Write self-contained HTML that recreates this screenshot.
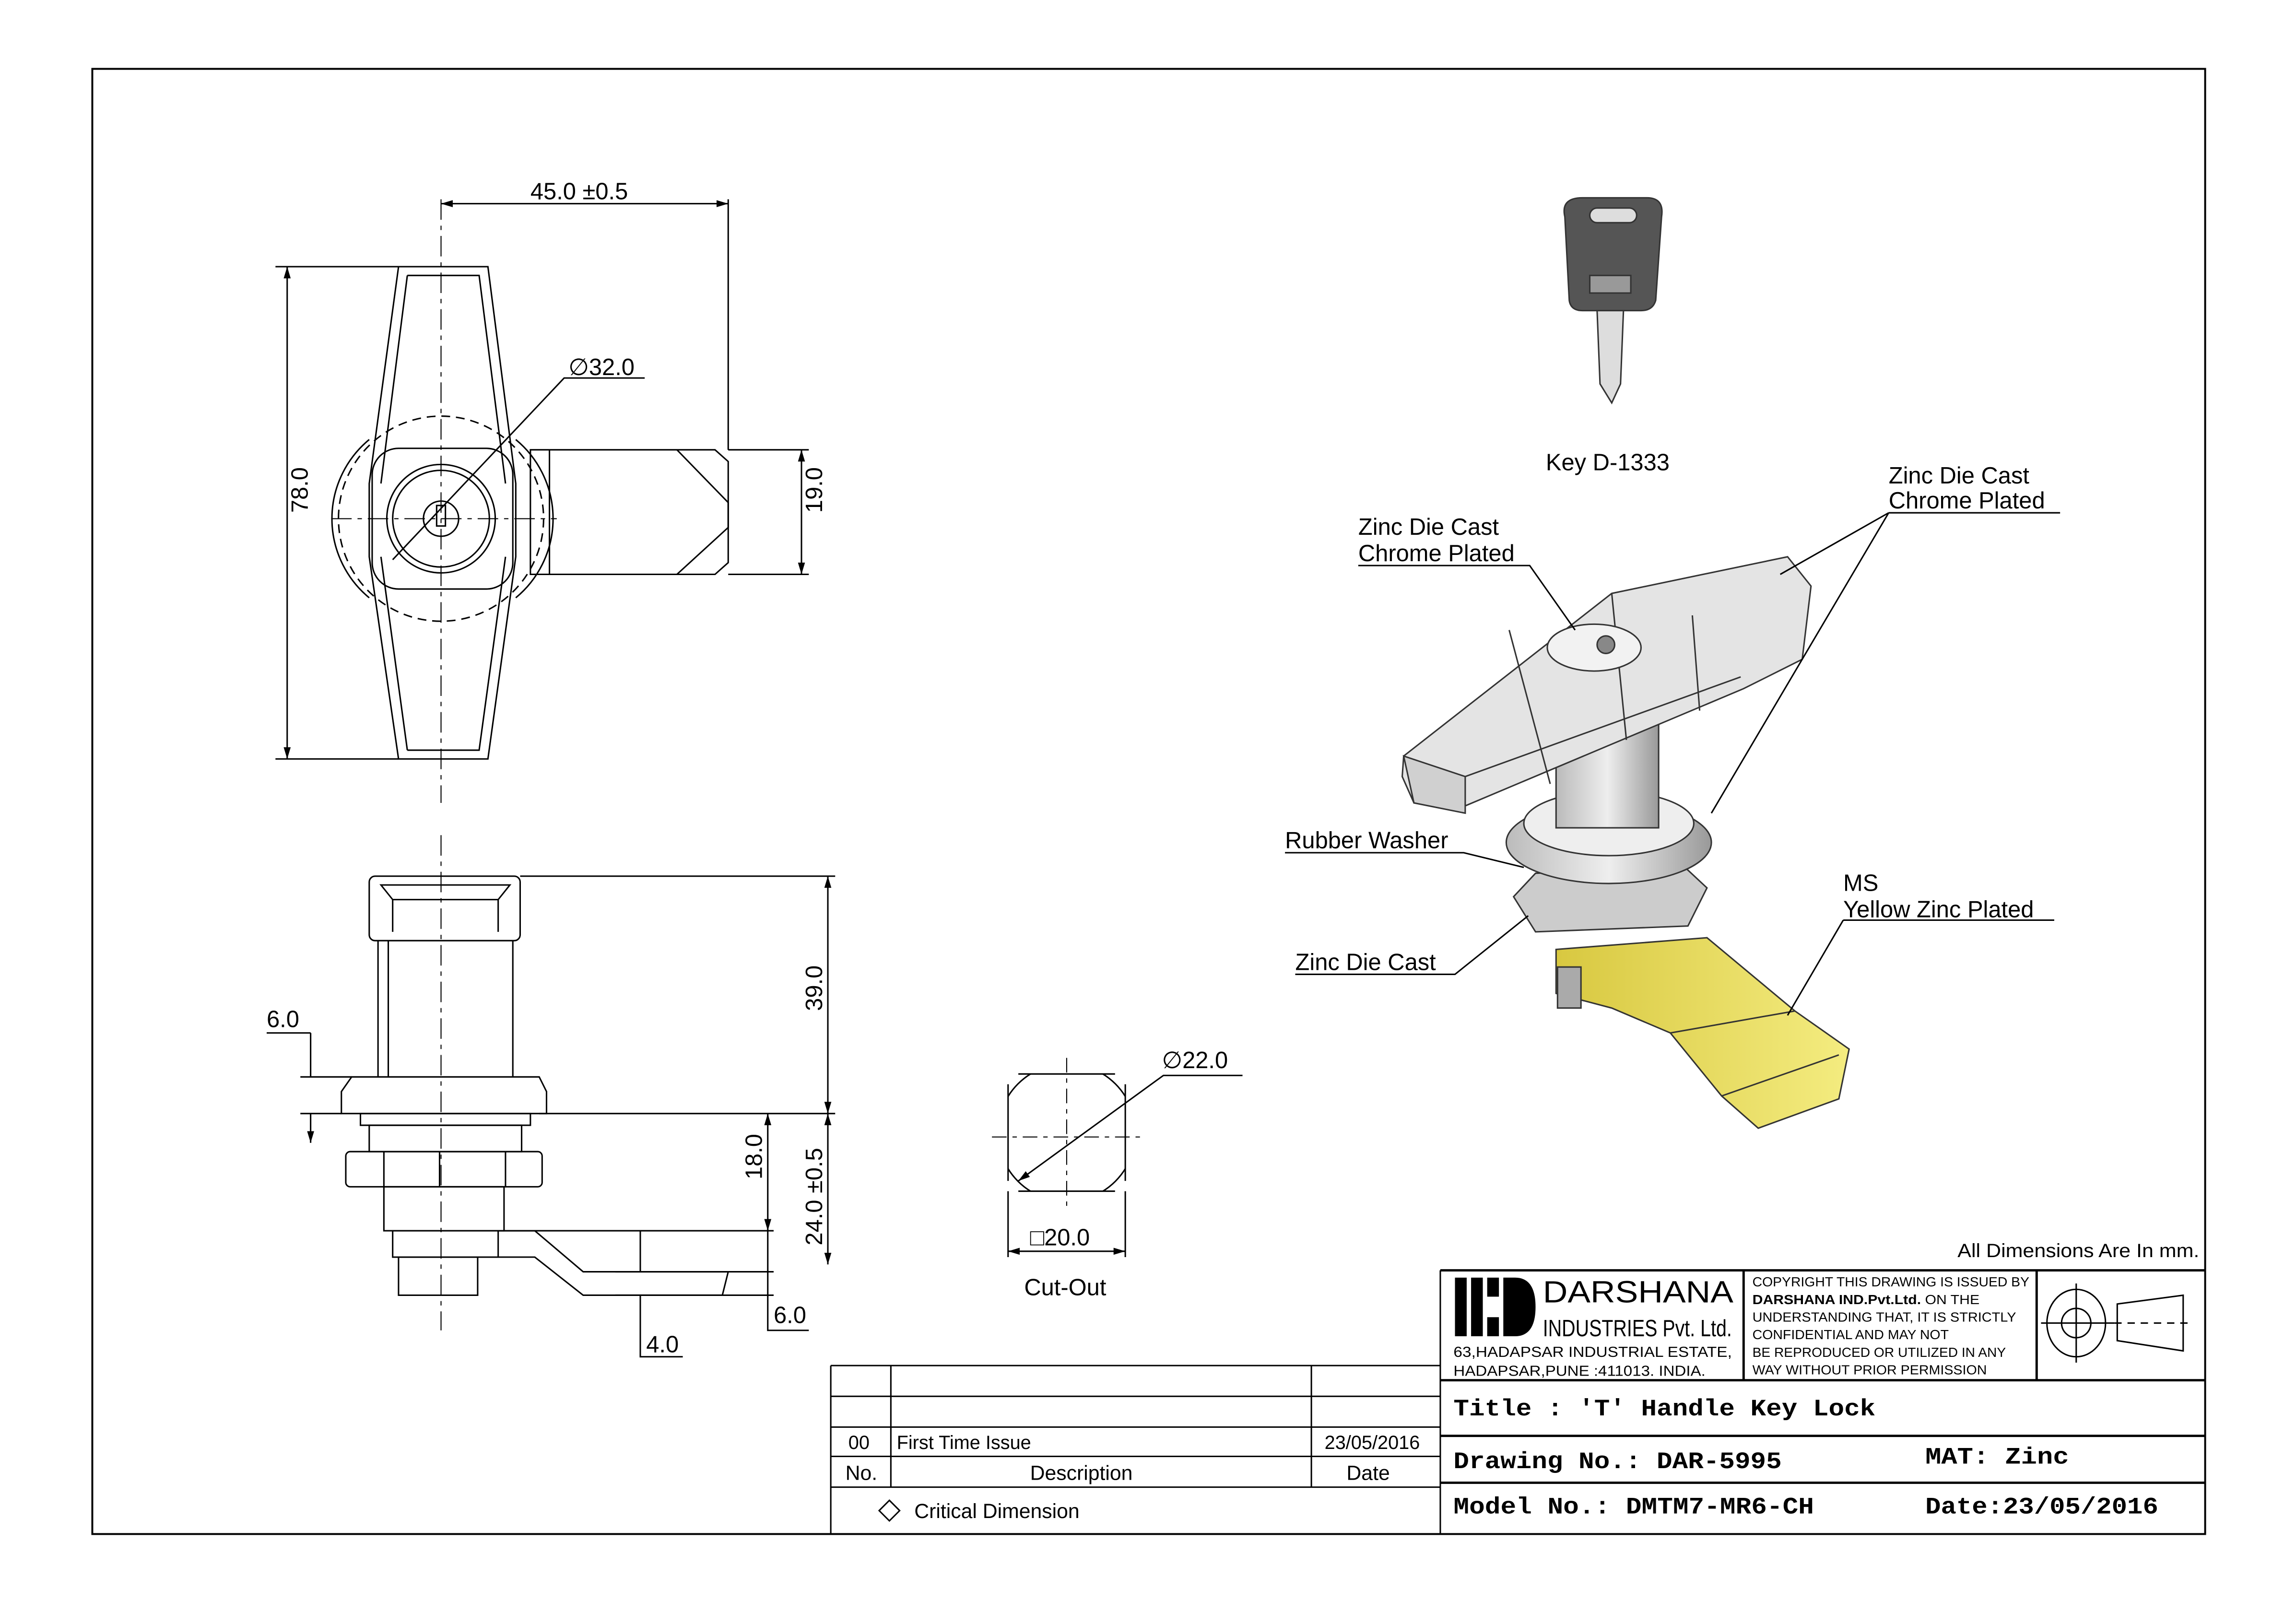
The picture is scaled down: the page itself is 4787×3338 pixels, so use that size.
<!DOCTYPE html>
<html><head><meta charset="utf-8"><style>
html,body{margin:0;padding:0;background:#fff}
svg{display:block}
text{font-family:"Liberation Sans",sans-serif;fill:#000}
.m{font-family:"Liberation Mono",monospace;font-weight:bold}
</style></head><body>
<svg width="4787" height="3338" viewBox="0 0 1567 1092.7" preserveAspectRatio="none" xmlns="http://www.w3.org/2000/svg">
<defs>
<marker id="a" viewBox="0 0 10 10" refX="10" refY="5" markerWidth="8" markerHeight="8" orient="auto-start-reverse"><path d="M0,2 L10,5 L0,8z" fill="#000"/></marker>
<clipPath id="sq"><rect x="688" y="733" width="80" height="80"/></clipPath>
<linearGradient id="g" x1="0" x2="1"><stop offset="0" stop-color="#bbb"/><stop offset=".5" stop-color="#eee"/><stop offset="1" stop-color="#999"/></linearGradient>
<linearGradient id="y" x1="0" x2="1"><stop offset="0" stop-color="#d8c840"/><stop offset="1" stop-color="#f4ec80"/></linearGradient>
</defs>
<rect x="0" y="0" width="1567" height="1093" fill="#fff"/>
<rect x="63" y="47" width="1442" height="1000" fill="none" stroke="#000" stroke-width="1.3"/>

<!-- TOP VIEW -->
<g fill="none" stroke="#000" stroke-width="1">
<path d="M272,182 L333,182 L352,330 L352,380 L333,518 L272,518 L252,380 L252,330 Z"/>
<path d="M278,188 L327,188 L345,330 M278,512 L327,512 L345,380 M260,330 L278,188 M260,380 L278,512"/>
<path d="M252,300 A70,70 0 0,0 252,408 M352,300 A70,70 0 0,1 352,408"/>
<circle cx="301" cy="354" r="70" stroke-dasharray="6,4"/>
<rect x="254" y="306" width="96" height="96" rx="18"/>
<circle cx="301" cy="354" r="37"/>
<circle cx="301" cy="354" r="33"/>
<circle cx="301" cy="354" r="12"/>
<rect x="298" y="345" width="6" height="14"/>
<path d="M362,307 L488,307 L497,315 L497,384 L488,392 L362,392 Z"/>
<path d="M375,307 L375,392 M462,307 L497,343 L497,360 L462,392"/>
<path d="M301,136 L301,548 M226,354 L380,354" stroke-dasharray="14,4,3,4" stroke-width=".7"/>
<path d="M301,139 L497,139" marker-start="url(#a)" marker-end="url(#a)"/>
<path d="M497,136 L497,307"/>
<path d="M196,182 L196,518" marker-start="url(#a)" marker-end="url(#a)"/>
<path d="M188,182 L272,182 M188,518 L272,518"/>
<path d="M547,307 L547,392" marker-start="url(#a)" marker-end="url(#a)"/>
<path d="M497,307 L552,307 M497,392 L552,392"/>
<path d="M268,382 L385,258 L440,258"/>
</g>
<text x="362" y="136" font-size="16">45.0 ±0.5</text>
<text x="388" y="256" font-size="16">∅32.0</text>
<text x="192" y="368" font-size="16" transform="rotate(-90 192 350)">78.0</text>
<text x="543" y="368" font-size="16" transform="rotate(-90 543 350)">19.0</text>

<!-- SIDE VIEW -->
<g fill="none" stroke="#000" stroke-width="1">
<rect x="252" y="598" width="103" height="44" rx="4"/>
<path d="M260,604 L348,604 L340,614 L268,614 Z M268,614 L268,636 M340,614 L340,636"/>
<path d="M258,642 L258,735 M350,642 L350,735 M265,642 L265,735"/>
<path d="M240,735 L368,735 L373,745 L373,760 L233,760 L233,745 Z"/>
<rect x="246" y="760" width="116" height="8"/>
<rect x="252" y="768" width="104" height="18"/>
<rect x="236" y="786" width="134" height="24" rx="3"/>
<path d="M262,786 L262,810 M345,786 L345,810 M300,786 L300,810"/>
<rect x="262" y="810" width="82" height="30"/>
<rect x="268" y="840" width="72" height="18"/>
<rect x="272" y="858" width="54" height="26"/>
<path d="M340,840 L365,840 L398,868 L497,868 L493,884 L398,884 L365,858 L340,858"/>
<path d="M301,570 L301,908" stroke-dasharray="14,4,3,4" stroke-width=".7"/>
<path d="M355,598 L570,598 M372,760 L570,760 M340,840 L528,840 M420,868 L528,868 M420,884 L528,884 M368,760 L528,760"/>
<path d="M565,598 L565,760" marker-start="url(#a)" marker-end="url(#a)"/>
<path d="M565,760 L565,863" marker-start="url(#a)" marker-end="url(#a)"/>
<path d="M524,760 L524,840" marker-start="url(#a)" marker-end="url(#a)"/>
<path d="M524,840 L524,908 L552,908 M524,884 L524,868"/>
<path d="M212,705 L212,735 M212,760 L212,780" marker-end="url(#a)"/>
<path d="M182,705 L212,705 M205,735 L240,735 M205,760 L233,760"/>
<path d="M437,840 L437,868 M437,884 L437,926 L466,926"/>
</g>
<text x="182" y="701" font-size="16">6.0</text>
<text x="561" y="690" font-size="16" transform="rotate(-90 561 690)">39.0</text>
<text x="520" y="805" font-size="16" transform="rotate(-90 520 805)">18.0</text>
<text x="561" y="850" font-size="16" transform="rotate(-90 561 850)">24.0 ±0.5</text>
<text x="528" y="903" font-size="16">6.0</text>
<text x="441" y="923" font-size="16">4.0</text>

<!-- CUT-OUT -->
<g fill="none" stroke="#000" stroke-width="1">
<circle cx="728" cy="773" r="47" clip-path="url(#sq)"/>
<path d="M688,740 L688,806 M768,740 L768,806 M695,733 L761,733 M695,813 L761,813"/>
<path d="M728,722 L728,826 M677,776 L780,776" stroke-dasharray="10,4,3,4" stroke-width=".7"/>
<path d="M695,806 L794,734 L848,734" marker-start="url(#a)"/>
<path d="M688,813 L688,858 M768,813 L768,858"/>
<path d="M688,854 L768,854" marker-start="url(#a)" marker-end="url(#a)"/>
</g>
<text x="793" y="729" font-size="16">∅22.0</text>
<text x="703" y="850" font-size="16">□20.0</text>
<text x="699" y="884" font-size="16">Cut-Out</text>

<!-- KEY -->
<g stroke="#333" stroke-width="1">
<path d="M1068,148 Q1065,135 1080,135 L1124,135 Q1136,135 1134,148 L1130,205 Q1128,212 1120,212 L1080,212 Q1072,212 1071,205 Z" fill="#555"/>
<rect x="1085" y="142" width="32" height="10" rx="5" fill="#ddd"/>
<rect x="1085" y="188" width="28" height="12" fill="#999"/>
<path d="M1090,212 L1108,212 L1106,262 L1100,275 L1092,262 Z" fill="#ddd"/>
</g>
<text x="1055" y="321" font-size="16">Key D-1333</text>

<!-- ISO VIEW -->
<g stroke="#333" stroke-width="1">
<path d="M1062,648 L1165,640 L1225,690 L1262,716 L1255,750 L1200,770 L1175,748 L1140,705 L1100,688 L1062,678 Z" fill="url(#y)"/>
<path d="M1175,748 L1255,720 M1140,705 L1225,690" fill="none"/>
<rect x="1063" y="660" width="16" height="28" fill="#aaa"/>
<path d="M1033,612 L1048,596 L1150,592 L1165,606 L1152,632 L1048,636 Z" fill="#ccc"/>
<ellipse cx="1098" cy="575" rx="70" ry="28" fill="url(#g)"/>
<ellipse cx="1098" cy="562" rx="58" ry="22" fill="#eee"/>
<rect x="1062" y="470" width="70" height="95" fill="url(#g)"/>
<path d="M958,516 L1100,405 L1220,380 L1236,400 L1230,450 L1190,470 L1000,550 L965,548 L957,530 Z" fill="#e4e4e4"/>
<path d="M958,516 L1000,530 L1000,555 L965,548 Z" fill="#d0d0d0"/>
<path d="M1000,530 L1188,462 M1100,405 L1110,505 M1030,430 L1058,535 M1155,420 L1160,485" fill="none"/>
<ellipse cx="1088" cy="442" rx="32" ry="16" fill="#f2f2f2"/>
<circle cx="1096" cy="440" r="6" fill="#888"/>
</g>
<g fill="none" stroke="#000" stroke-width="1">
<path d="M927,386 L1044,386 L1075,430"/>
<path d="M1289,350 L1406,350 M1289,350 L1215,392 M1289,350 L1168,555"/>
<path d="M877,582 L999,582 L1040,592"/>
<path d="M884,665 L993,665 L1043,625"/>
<path d="M1258,628 L1402,628 M1258,628 L1220,693"/>
</g>
<text x="927" y="365" font-size="16">Zinc Die Cast</text>
<text x="927" y="383" font-size="16">Chrome Plated</text>
<text x="1289" y="330" font-size="16">Zinc Die Cast</text>
<text x="1289" y="347" font-size="16">Chrome Plated</text>
<text x="877" y="579" font-size="16">Rubber Washer</text>
<text x="884" y="662" font-size="16">Zinc Die Cast</text>
<text x="1258" y="608" font-size="16">MS</text>
<text x="1258" y="626" font-size="16">Yellow Zinc Plated</text>

<!-- REVISION TABLE -->
<g fill="none" stroke="#000" stroke-width="1">
<path d="M567,932 L983,932 M567,953 L983,953 M567,974 L983,974 M567,994 L983,994 M567,1015 L983,1015 M567,932 L567,1047 M608,932 L608,1015 M895,932 L895,1015 M983,867 L983,1047"/>
<path d="M983,867 L1505,867 M983,942 L1505,942 M983,980 L1505,980 M983,1012 L1505,1012 M1190,867 L1190,942 M1390,867 L1390,942" stroke-width="1.6"/>
<path d="M607,1024 L614,1031 L607,1038 L600,1031 Z"/>
<ellipse cx="1417" cy="903" rx="20" ry="23"/><circle cx="1417" cy="903" r="10"/>
<path d="M1443,903 L1493,903" stroke-dasharray="5,4"/><path d="M1393,903 L1443,903 M1417,876 L1417,930"/>
<path d="M1445,890 L1490,884 L1490,922 L1445,915 Z"/>
</g>
<text x="579" y="989" font-size="13">00</text>
<text x="612" y="989" font-size="13">First Time Issue</text>
<text x="904" y="989" font-size="13">23/05/2016</text>
<text x="577" y="1010" font-size="14">No.</text>
<text x="703" y="1010" font-size="14">Description</text>
<text x="919" y="1010" font-size="14">Date</text>
<text x="624" y="1036" font-size="14">Critical Dimension</text>

<!-- TITLE BLOCK -->
<text x="1336" y="858" font-size="13" textLength="165" lengthAdjust="spacingAndGlyphs">All Dimensions Are In mm.</text>
<g fill="#000">
<rect x="993" y="872" width="8" height="40"/><rect x="1004" y="872" width="8" height="40"/>
<rect x="1015" y="872" width="8" height="13"/><rect x="1015" y="899" width="8" height="13"/>
<path d="M1026,872 L1034,872 Q1048,872 1048,892 Q1048,912 1034,912 L1026,912 Z"/>
</g>
<text x="1053" y="889" font-size="21" textLength="130" lengthAdjust="spacingAndGlyphs">DARSHANA</text>
<text x="1053" y="912" font-size="16" textLength="129" lengthAdjust="spacingAndGlyphs">INDUSTRIES Pvt. Ltd.</text>
<text x="992" y="926" font-size="10" textLength="190" lengthAdjust="spacingAndGlyphs">63,HADAPSAR INDUSTRIAL ESTATE,</text>
<text x="992" y="939" font-size="10" textLength="172" lengthAdjust="spacingAndGlyphs">HADAPSAR,PUNE :411013. INDIA.</text>
<g font-size="9">
<text x="1196" y="878" textLength="189" lengthAdjust="spacingAndGlyphs">COPYRIGHT THIS DRAWING IS ISSUED BY</text>
<text x="1196" y="890" textLength="155" lengthAdjust="spacingAndGlyphs"><tspan font-weight="bold">DARSHANA IND.Pvt.Ltd.</tspan> ON THE</text>
<text x="1196" y="902" textLength="180" lengthAdjust="spacingAndGlyphs">UNDERSTANDING THAT, IT IS STRICTLY</text>
<text x="1196" y="914" textLength="134" lengthAdjust="spacingAndGlyphs">CONFIDENTIAL AND MAY NOT</text>
<text x="1196" y="926" textLength="173" lengthAdjust="spacingAndGlyphs">BE REPRODUCED OR UTILIZED IN ANY</text>
<text x="1196" y="938" textLength="160" lengthAdjust="spacingAndGlyphs">WAY WITHOUT PRIOR PERMISSION</text>
</g>
<text class="m" x="992" y="966" font-size="16" textLength="288" lengthAdjust="spacingAndGlyphs">Title : 'T' Handle Key Lock</text>
<text class="m" x="992" y="1002" font-size="16" textLength="224" lengthAdjust="spacingAndGlyphs">Drawing No.: DAR-5995</text>
<text class="m" x="1314" y="999" font-size="16" textLength="98" lengthAdjust="spacingAndGlyphs">MAT: Zinc</text>
<text class="m" x="992" y="1033" font-size="16" textLength="246" lengthAdjust="spacingAndGlyphs">Model No.: DMTM7-MR6-CH</text>
<text class="m" x="1314" y="1033" font-size="16" textLength="159" lengthAdjust="spacingAndGlyphs">Date:23/05/2016</text>
</svg>
</body></html>
